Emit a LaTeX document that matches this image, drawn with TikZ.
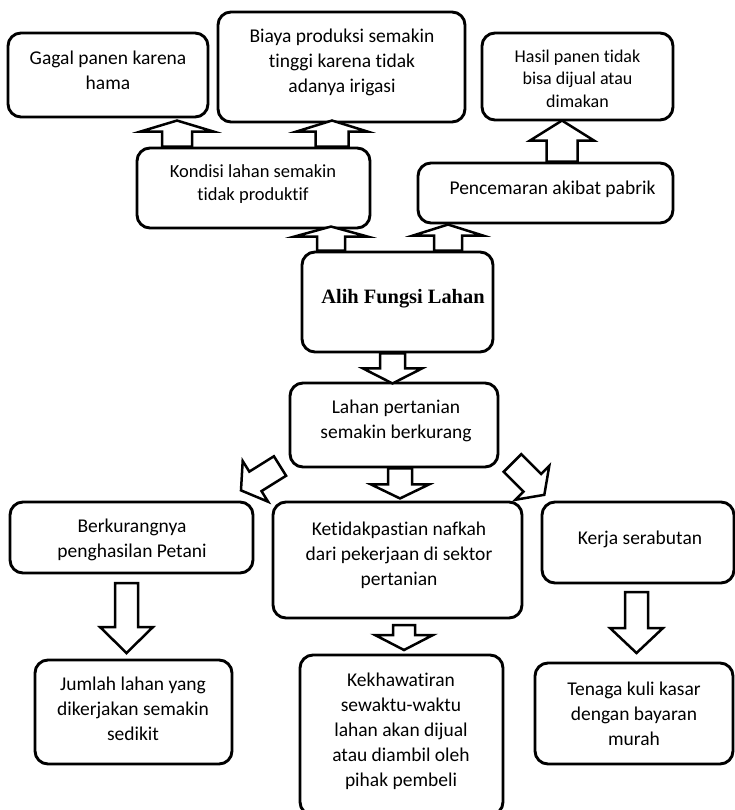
\documentclass[tikz,border=0pt]{standalone}
\usepackage{fontspec}
\setmainfont{Carlito}[Ligatures=NoCommon]
\newfontfamily\titlefont{Liberation Serif}

\tikzset{
  box/.style={draw=black, line width=2.9pt, rounded corners=13pt, inner sep=0pt},
  txt/.style={align=center, inner sep=0pt, text=black, yshift=-2.5pt,
    font=\fontsize{19.5}{24.8}\selectfont,
    execute at begin node={\strut}, execute at end node={\strut}},
  arrowline/.style={draw=black, line width=2.5pt, fill=white, line join=miter},
  % block arrow along the local x axis: length, shaft half width, head half width, head length
  pics/barrow/.style n args={4}{code={
    \draw[arrowline] (0,-#2) -- ({#1-#4},-#2) -- ({#1-#4},-#3) -- (#1,0)
      -- ({#1-#4},#3) -- ({#1-#4},#2) -- (0,#2) -- cycle;
  }},
}

\begin{document}
\begin{tikzpicture}[x=1pt, y=-1pt]
\useasboundingbox (0,0) rectangle (735,810);

% boxes
\node[box, minimum width=200pt, minimum height=84pt]  (gagal)   at (108,75) {};
\node[box, minimum width=247pt, minimum height=110pt] (biaya)   at (341.5,67) {};
\node[box, minimum width=191pt, minimum height=87pt]  (hasil)   at (577.5,76.5) {};
\node[box, minimum width=233pt, minimum height=80pt]  (kondisi) at (253.5,188) {};
\node[box, minimum width=255pt, minimum height=60pt]  (cemar)   at (545.5,193) {};
\node[box, minimum width=191pt, minimum height=100pt] (alih)    at (397.5,302) {};
\node[box, minimum width=208pt, minimum height=84pt]  (lahan)   at (394,425) {};
\node[box, minimum width=243pt, minimum height=71pt]  (kurang)  at (131.5,537.5) {};
\node[box, minimum width=249pt, minimum height=116pt] (nafkah)  at (397.5,560) {};
\node[box, minimum width=192pt, minimum height=81pt]  (kerja)   at (638,542.5) {};
\node[box, minimum width=197pt, minimum height=104pt] (jumlah)  at (133.5,712) {};
\node[box, minimum width=203pt, minimum height=160pt] (khawatir) at (401.5,735) {};
\node[box, minimum width=198pt, minimum height=101pt] (tenaga)  at (634,713.5) {};

% texts
\node[txt] (gagal-t) at (108,71.5) {Gagal panen karena\\hama};
\node[txt] (biaya-t) at (342,62) {Biaya produksi semakin\\tinggi karena tidak\\adanya irigasi};
\node[txt, font=\fontsize{18}{22.5}\selectfont] (hasil-t) at (577.5,79.5) {Hasil panen tidak\\bisa dijual atau\\dimakan};
\node[txt, font=\fontsize{18.5}{23.5}\selectfont] (kondisi-t) at (253,183.5) {Kondisi lahan semakin\\tidak produktif};
\node[txt] (cemar-t) at (552.5,187) {Pencemaran akibat pabrik};
\node[txt, font=\titlefont\bfseries\fontsize{20.4}{24}\selectfont] (alih-t) at (403,296) {Alih Fungsi Lahan};
\node[txt] (lahan-t) at (396,420.5) {Lahan pertanian\\semakin berkurang};
\node[txt] (kurang-t) at (132,539.5) {Berkurangnya\\penghasilan Petani};
\node[txt] (nafkah-t) at (399,555) {Ketidakpastian nafkah\\dari pekerjaan di sektor\\pertanian};
\node[txt] (kerja-t) at (640,537) {Kerja serabutan};
\node[txt] (jumlah-t) at (133,710) {Jumlah lahan yang\\dikerjakan semakin\\sedikit};
\node[txt] (khawatir-t) at (401,731) {Kekhawatiran\\sewaktu-waktu\\lahan akan dijual\\atau diambil oleh\\pihak pembeli};
\node[txt] (tenaga-t) at (634,715) {Tenaga kuli kasar\\dengan bayaran\\murah};

% block arrows
\pic[rotate=90]  at (177,0 |- kondisi.north) {barrow={26}{15}{36.5}{11}};
\pic[rotate=90]  at (332,0 |- kondisi.north) {barrow={26}{16.5}{35.5}{11}};
\pic[rotate=90]  at (562,0 |- cemar.north)   {barrow={41}{15.5}{32}{20}};
\pic[rotate=90]  at (331,0 |- alih.north)    {barrow={24}{14}{36.5}{10}};
\pic[rotate=90]  at (448,0 |- alih.north)    {barrow={26}{14}{35}{11}};
\pic[rotate=-90] at (392.5,0 |- alih.south)  {barrow={30}{12.5}{29.5}{15}};
\pic[rotate=-90] at (400,0 |- lahan.south)   {barrow={30}{12}{29}{14}};
\pic[rotate=212] at (280,466)                {barrow={46}{11.5}{24}{17}};
\pic[rotate=-45] at (512.5,463)              {barrow={45}{12.4}{24}{17}};
\pic[rotate=-90] at (126.5,583)              {barrow={70}{11.5}{26.5}{26}};
\pic[rotate=-90] at (636.5,592)              {barrow={61}{11.5}{26.5}{25}};
\pic[rotate=-90] at (404,625)                {barrow={25}{11}{29}{15}};
\end{tikzpicture}
\end{document}
